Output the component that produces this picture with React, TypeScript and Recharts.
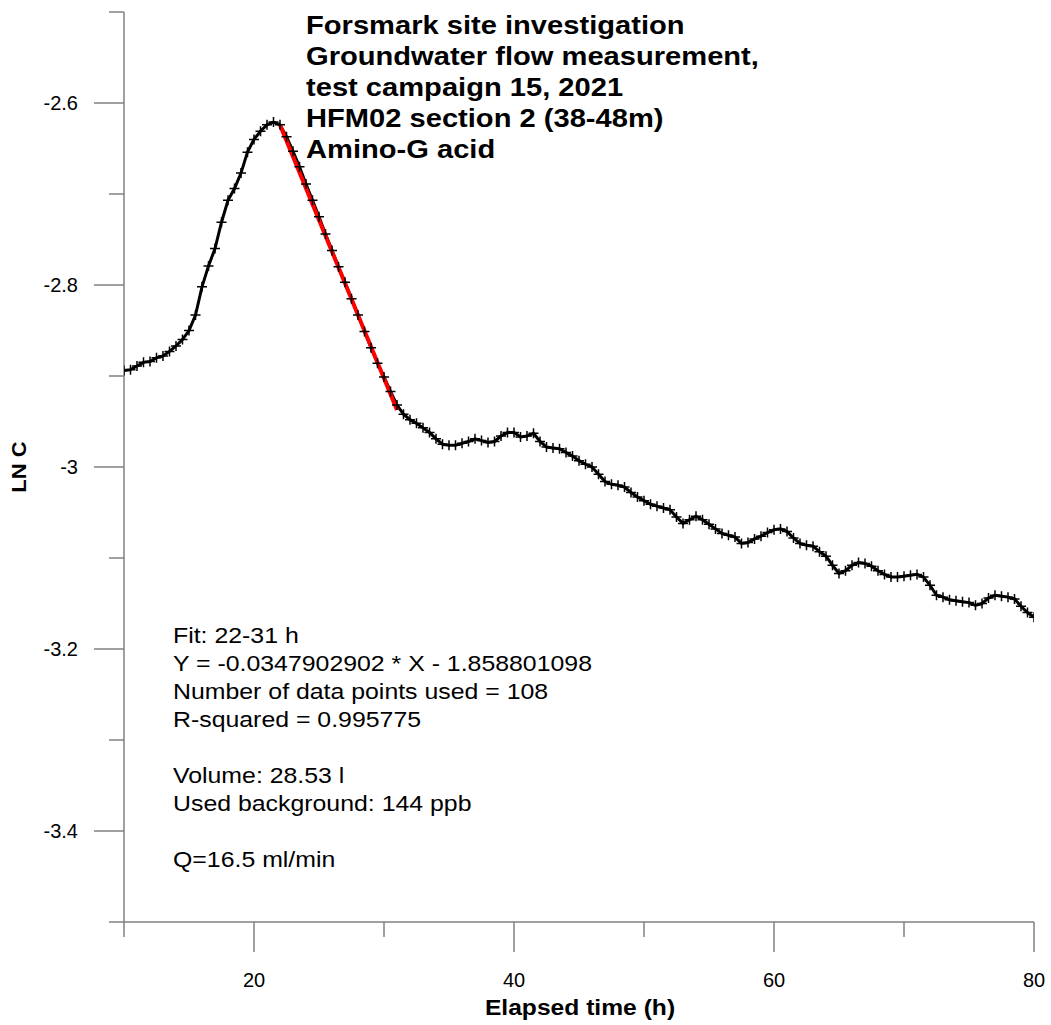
import { ComposedChart, Line, XAxis, YAxis } from "recharts";

// elapsed time (h) and LN C
const hours = [
  10, 10.5, 11, 11.5, 12, 12.5, 13, 13.5, 14, 14.5, 15, 15.5, 16, 16.5, 17, 17.5, 18, 18.5, 19, 19.5,
  20, 20.5, 21, 21.5, 22, 22.5, 23, 23.5, 24, 24.5, 25, 25.5, 26, 26.5, 27, 27.5, 28, 28.5, 29, 29.5,
  30, 30.5, 31, 31.5, 32, 32.5, 33, 33.5, 34, 34.5, 35, 35.5, 36, 36.5, 37, 37.5, 38, 38.5, 39, 39.5,
  40, 40.5, 41, 41.5, 42, 42.5, 43, 43.5, 44, 44.5, 45, 45.5, 46, 46.5, 47, 47.5, 48, 48.5, 49, 49.5,
  50, 50.5, 51, 51.5, 52, 52.5, 53, 53.5, 54, 54.5, 55, 55.5, 56, 56.5, 57, 57.5, 58, 58.5, 59, 59.5,
  60, 60.5, 61, 61.5, 62, 62.5, 63, 63.5, 64, 64.5, 65, 65.5, 66, 66.5, 67, 67.5, 68, 68.5, 69, 69.5,
  70, 70.5, 71, 71.5, 72, 72.5, 73, 73.5, 74, 74.5, 75, 75.5, 76, 76.5, 77, 77.5, 78, 78.5, 79, 79.5,
  80,
];

const lnC = [
  -2.894, -2.893, -2.889, -2.885, -2.884, -2.88, -2.878, -2.873, -2.867, -2.86,
  -2.85, -2.833, -2.802, -2.779, -2.76, -2.731, -2.707, -2.694, -2.677, -2.654,
  -2.64, -2.631, -2.624, -2.621, -2.624, -2.637, -2.653, -2.67, -2.689, -2.707,
  -2.725, -2.744, -2.762, -2.78, -2.797, -2.815, -2.833, -2.851, -2.869, -2.886,
  -2.901, -2.917, -2.932, -2.942, -2.948, -2.952, -2.957, -2.962, -2.969, -2.975,
  -2.976, -2.976, -2.974, -2.972, -2.969, -2.971, -2.973, -2.972, -2.966, -2.962,
  -2.962, -2.967, -2.966, -2.963, -2.972, -2.978, -2.979, -2.98, -2.984, -2.988,
  -2.993, -2.997, -3.0, -3.008, -3.016, -3.019, -3.02, -3.022, -3.028, -3.033,
  -3.037, -3.041, -3.043, -3.045, -3.047, -3.055, -3.062, -3.058, -3.054, -3.058,
  -3.063, -3.068, -3.073, -3.075, -3.077, -3.084, -3.083, -3.079, -3.076, -3.072,
  -3.069, -3.068, -3.071, -3.078, -3.084, -3.086, -3.087, -3.093, -3.098, -3.108,
  -3.117, -3.114, -3.108, -3.105, -3.106, -3.109, -3.114, -3.118, -3.121, -3.121,
  -3.12, -3.119, -3.118, -3.121, -3.13, -3.141, -3.143, -3.146, -3.147, -3.148,
  -3.149, -3.152, -3.15, -3.144, -3.141, -3.142, -3.143, -3.145, -3.153, -3.16,
  -3.165,
];

// linear fit 22-31 h
const fitHours = [22, 31];
const fitLnC = [-2.6242, -2.9373];

const xTicks = [10, 20, 30, 40, 50, 60, 70, 80];
const xTickLabels = [20, 40, 60, 80];
const yTicks = [-3.5, -3.4, -3.3, -3.2, -3.1, -3, -2.9, -2.8, -2.7, -2.6, -2.5];
const yTickLabels = [-3.4, -3.2, -3, -2.8, -2.6];

const titleLines = [
  "Forsmark site investigation",
  "Groundwater flow measurement,",
  "test campaign 15, 2021",
  "HFM02 section 2 (38-48m)",
  "Amino-G acid",
];

const noteLines = [
  "Fit: 22-31 h",
  "Y = -0.0347902902 * X - 1.858801098",
  "Number of data points used = 108",
  "R-squared = 0.995775",
  "",
  "Volume: 28.53 l",
  "Used background: 144 ppb",
  "",
  "Q=16.5 ml/min",
];

const FONT = "'Liberation Sans', Arial, sans-serif";
const AXIS = "#808080";

const dataRows = hours.map((h, i) => ({ h, v: lnC[i] }));
const fitRows = fitHours.map((h, i) => ({ h, v: fitLnC[i] }));

const XTick = (props: any) => {
  const { x, y, payload } = props;
  const major = xTickLabels.includes(payload.value);
  return (
    <g>
      <line x1={x} x2={x} y1={y} y2={y + (major ? 30 : 15)} stroke={AXIS} strokeWidth={1.5} />
      {major && (
        <text x={x} y={y + 65} textAnchor="middle" fontSize={20} fontFamily={FONT} fill="#000">
          {payload.value}
        </text>
      )}
    </g>
  );
};

const YTick = (props: any) => {
  const { x, y, payload } = props;
  const v = Math.round(payload.value * 10) / 10;
  const major = yTickLabels.some((t) => Math.abs(t - v) < 1e-6);
  return (
    <g>
      <line x1={x - (major ? 30 : 15)} x2={x} y1={y} y2={y} stroke={AXIS} strokeWidth={1.5} />
      {major && (
        <text x={x - 46} y={y} dy="0.36em" textAnchor="end" fontSize={20} fontFamily={FONT} fill="#000">
          {String(v)}
        </text>
      )}
    </g>
  );
};

const PlusDot = (props: any) => {
  const { cx, cy, index } = props;
  if (cx == null || cy == null) return <g key={index} />;
  return (
    <path
      key={index}
      d={`M${cx - 5},${cy}h10M${cx},${cy - 5}v10`}
      stroke="#000"
      strokeWidth={1.5}
      fill="none"
    />
  );
};

// reference text is a little wider than Arial, so stretch it horizontally
const Stretched = ({ x, y, sx, children, ...rest }: any) => (
  <text transform={`translate(${x} ${y}) scale(${sx} 1)`} x={0} y={0} fill="#000" {...rest}>
    {children}
  </text>
);

export default function App() {
  return (
    <div style={{ position: "absolute", left: 0, top: 0, width: 1051, height: 1025, background: "#fff" }}>
      <ComposedChart width={1051} height={1025} margin={{ top: 12, right: 17, bottom: 0, left: 0 }}>
        <XAxis
          dataKey="h"
          type="number"
          domain={[10, 80]}
          ticks={xTicks}
          interval={0}
          height={103}
          tickSize={0}
          tickMargin={0}
          tickLine={false}
          axisLine={{ stroke: AXIS, strokeWidth: 1.5 }}
          tick={<XTick />}
          allowDataOverflow
        />
        <YAxis
          type="number"
          domain={[-3.5, -2.5]}
          ticks={yTicks}
          interval={0}
          width={124}
          tickSize={0}
          tickMargin={0}
          tickLine={false}
          axisLine={{ stroke: AXIS, strokeWidth: 1.5 }}
          tick={<YTick />}
          allowDataOverflow
        />
        <Line
          data={dataRows}
          dataKey="v"
          type="linear"
          stroke="#000"
          strokeWidth={3}
          dot={(p: any) => <PlusDot key={p.index} {...p} />}
          activeDot={false}
          isAnimationActive={false}
        />
        <Line
          data={fitRows}
          dataKey="v"
          type="linear"
          stroke="#ff0000"
          strokeWidth={4}
          dot={false}
          activeDot={false}
          isAnimationActive={false}
        />
      </ComposedChart>
      <svg
        width={1051}
        height={1025}
        style={{ position: "absolute", left: 0, top: 0, pointerEvents: "none" }}
        fontFamily={FONT}
      >
        {titleLines.map((t, i) => (
          <Stretched key={t} x={306} y={34 + i * 31} sx={1.12} fontSize={26} fontWeight="bold">
            {t}
          </Stretched>
        ))}
        {noteLines.map((t, i) => (
          <Stretched key={i} x={173} y={643 + i * 28} sx={1.13} fontSize={22}>
            {t}
          </Stretched>
        ))}
        <Stretched x={580} y={1015} sx={1.12} textAnchor="middle" fontSize={22} fontWeight="bold">
          Elapsed time (h)
        </Stretched>
        <text
          transform="translate(26 467) rotate(-90) scale(1.1 1)"
          x={0}
          y={0}
          textAnchor="middle"
          fontSize={20}
          fontWeight="bold"
          fill="#000"
        >
          LN C
        </text>
      </svg>
    </div>
  );
}
